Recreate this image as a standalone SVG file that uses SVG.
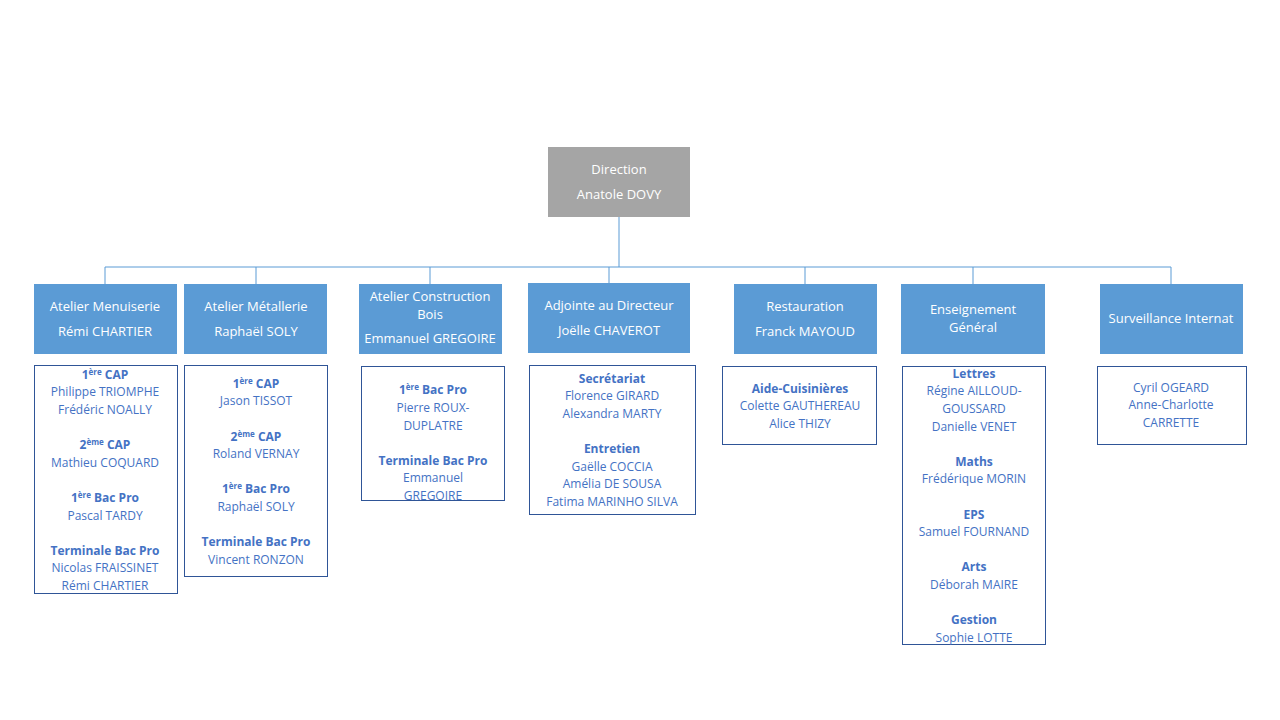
<svg xmlns="http://www.w3.org/2000/svg" width="1280" height="720" viewBox="0 0 1280 720">
<style>
.h{fill:#5B9BD5}
.b{fill:#fff;stroke:#2F5597;stroke-width:1}
.ht{font-family:"Open Sans","Liberation Sans",sans-serif;font-size:13px;fill:#fff;text-anchor:middle}
.t{font-family:"Open Sans","Liberation Sans",sans-serif;font-size:12px;fill:#4472C4;text-anchor:middle}
.bd{font-weight:bold}
.c{stroke:#5B9BD5;fill:none;stroke-width:1}
</style>
<rect width="1280" height="720" fill="#fff"/>
<g id="connectors">
<path class="c" d="M619 217V267" stroke-width="2"/>
<path class="c" d="M105 267H1171M105 267V284M256 267V284M430 267V284M609 267V284M805 267V284M973 267V284M1171 267V284"/>
</g>
<g id="direction"><rect x="548" y="147" width="142" height="70" fill="#A5A5A5"/>
<text class="ht" x="619" y="174">Direction</text><text class="ht" x="619" y="199">Anatole DOVY</text></g>
<g id="menuiserie">
<rect class="h" x="34" y="284" width="143" height="70"/>
<text class="ht" x="105" y="311">Atelier Menuiserie</text><text class="ht" x="105" y="336">Rémi CHARTIER</text>
<rect class="b" x="34.5" y="365.5" width="143" height="228"/>
<text class="t" x="105" y="379"><tspan class="bd">1<tspan font-size="8" dy="-4">ère</tspan><tspan dy="4"> CAP</tspan></tspan></text>
<text class="t" x="105" y="396">Philippe TRIOMPHE</text><text class="t" x="105" y="414">Frédéric NOALLY</text>
<text class="t" x="105" y="449"><tspan class="bd">2<tspan font-size="8" dy="-4">ème</tspan><tspan dy="4"> CAP</tspan></tspan></text>
<text class="t" x="105" y="467">Mathieu COQUARD</text>
<text class="t" x="105" y="502"><tspan class="bd">1<tspan font-size="8" dy="-4">ère</tspan><tspan dy="4"> Bac Pro</tspan></tspan></text>
<text class="t" x="105" y="520">Pascal TARDY</text>
<text class="t bd" x="105" y="555">Terminale Bac Pro</text>
<text class="t" x="105" y="572">Nicolas FRAISSINET</text><text class="t" x="105" y="590">Rémi CHARTIER</text>
</g>
<g id="metallerie">
<rect class="h" x="184" y="284" width="143" height="70"/>
<text class="ht" x="256" y="311">Atelier Métallerie</text><text class="ht" x="256" y="336">Raphaël SOLY</text>
<rect class="b" x="184.5" y="365.5" width="143" height="211"/>
<text class="t" x="256" y="388"><tspan class="bd">1<tspan font-size="8" dy="-4">ère</tspan><tspan dy="4"> CAP</tspan></tspan></text>
<text class="t" x="256" y="405">Jason TISSOT</text>
<text class="t" x="256" y="441"><tspan class="bd">2<tspan font-size="8" dy="-4">ème</tspan><tspan dy="4"> CAP</tspan></tspan></text>
<text class="t" x="256" y="458">Roland VERNAY</text>
<text class="t" x="256" y="493"><tspan class="bd">1<tspan font-size="8" dy="-4">ère</tspan><tspan dy="4"> Bac Pro</tspan></tspan></text>
<text class="t" x="256" y="511">Raphaël SOLY</text>
<text class="t bd" x="256" y="546">Terminale Bac Pro</text>
<text class="t" x="256" y="564">Vincent RONZON</text>
</g>
<g id="construction">
<rect class="h" x="359" y="284" width="143" height="70"/>
<text class="ht" x="430" y="301">Atelier Construction</text><text class="ht" x="430" y="319">Bois</text><text class="ht" x="430" y="343">Emmanuel  GREGOIRE</text>
<rect class="b" x="361.5" y="366.5" width="143" height="134"/>
<text class="t" x="433" y="394"><tspan class="bd">1<tspan font-size="8" dy="-4">ère</tspan><tspan dy="4"> Bac Pro</tspan></tspan></text>
<text class="t" x="433" y="412">Pierre ROUX-</text><text class="t" x="433" y="430">DUPLATRE</text>
<text class="t bd" x="433" y="465">Terminale Bac Pro</text>
<text class="t" x="433" y="482">Emmanuel</text><text class="t" x="433" y="500">GREGOIRE</text>
</g>
<g id="adjointe">
<rect class="h" x="528" y="283" width="162" height="70"/>
<text class="ht" x="609" y="310">Adjointe  au Directeur</text><text class="ht" x="609" y="335">Joëlle CHAVEROT</text>
<rect class="b" x="529.5" y="365.5" width="166" height="149"/>
<text class="t bd" x="612" y="383">Secrétariat</text>
<text class="t" x="612" y="400">Florence GIRARD</text><text class="t" x="612" y="418">Alexandra MARTY</text>
<text class="t bd" x="612" y="453">Entretien</text>
<text class="t" x="612" y="471">Gaëlle COCCIA</text><text class="t" x="612" y="488">Amélia DE SOUSA</text><text class="t" x="612" y="506">Fatima MARINHO SILVA</text>
</g>
<g id="restauration">
<rect class="h" x="734" y="284" width="143" height="70"/>
<text class="ht" x="805" y="311">Restauration</text><text class="ht" x="805" y="336">Franck MAYOUD</text>
<rect class="b" x="722.5" y="366.5" width="154" height="78"/>
<text class="t bd" x="800" y="393">Aide-Cuisinières</text>
<text class="t" x="800" y="410">Colette GAUTHEREAU</text><text class="t" x="800" y="428">Alice THIZY</text>
</g>
<g id="enseignement">
<rect class="h" x="901" y="284" width="144" height="70"/>
<text class="ht" x="973" y="314">Enseignement</text><text class="ht" x="973" y="332">Général</text>
<rect class="b" x="902.5" y="366.5" width="143" height="278"/>
<text class="t bd" x="974" y="378">Lettres</text>
<text class="t" x="974" y="395">Régine AILLOUD-</text><text class="t" x="974" y="413">GOUSSARD</text><text class="t" x="974" y="431">Danielle VENET</text>
<text class="t bd" x="974" y="466">Maths</text><text class="t" x="974" y="483">Frédérique MORIN</text>
<text class="t bd" x="974" y="519">EPS</text><text class="t" x="974" y="536">Samuel FOURNAND</text>
<text class="t bd" x="974" y="571">Arts</text><text class="t" x="974" y="589">Déborah MAIRE</text>
<text class="t bd" x="974" y="624">Gestion</text><text class="t" x="974" y="642">Sophie LOTTE</text>
</g>
<g id="surveillance">
<rect class="h" x="1100" y="284" width="143" height="70"/>
<text class="ht" x="1171" y="323">Surveillance Internat</text>
<rect class="b" x="1097.5" y="366.5" width="149" height="78"/>
<text class="t" x="1171" y="392">Cyril OGEARD</text><text class="t" x="1171" y="409">Anne-Charlotte</text><text class="t" x="1171" y="427">CARRETTE</text>
</g>
</svg>
